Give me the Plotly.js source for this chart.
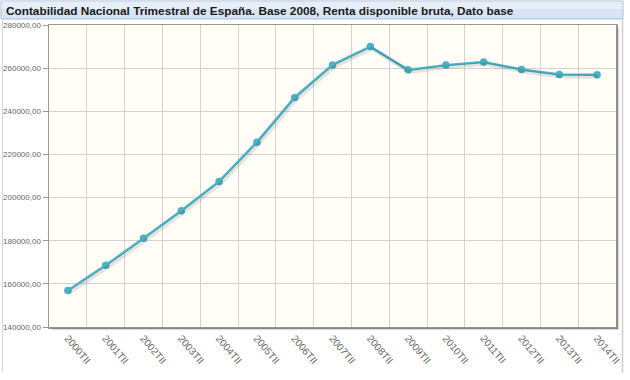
<!DOCTYPE html>
<html>
<head>
<meta charset="utf-8">
<script src="https://cdn.plot.ly/plotly-3.0.1.min.js"></script>
<style>html,body{margin:0;padding:0;background:#fff;}#chart{width:630px;height:380px;}</style>
</head>
<body>
<div id="chart"></div>
<script>
// Data
var categories = ["2000TII","2001TII","2002TII","2003TII","2004TII","2005TII","2006TII","2007TII","2008TII","2009TII","2010TII","2011TII","2012TII","2013TII","2014TII"];
var rentaDisponible = [156900, 168600, 181100, 193900, 207500, 225700, 246400, 261500, 270000, 259200, 261400, 262800, 259400, 257000, 256900];
var yTickValues = [140000, 160000, 180000, 200000, 220000, 240000, 260000, 280000];
var chartTitle = "Contabilidad Nacional Trimestral de España. Base 2008, Renta disponible bruta, Dato base";

var W = 630, H = 380;
var M = {l: 49, r: 14, t: 25, b: 53};
var pw = W - M.l - M.r, ph = H - M.t - M.b;
function px(x){ return (x - M.l) / pw; }
function py(y){ return (H - M.b - y) / ph; }

var yMin = 140000, yMax = 280000;
var unitsPerPx = (yMax - yMin) / ph;
var xUnitsPerPx = categories.length / pw;

var shadow = {
  x: categories, y: rentaDisponible, type: 'scatter', mode: 'lines',
  xaxis: 'x2', yaxis: 'y2',
  line: {color: 'rgba(0,0,0,0.10)', width: 4},
  hoverinfo: 'skip', showlegend: false
};
var main = {
  x: categories, y: rentaDisponible, type: 'scatter', mode: 'lines+markers',
  line: {color: '#4bb2c5', width: 2.5},
  marker: {color: '#4bb2c5', size: 7.5},
  showlegend: false
};

var shapes = [
  // title bar
  {type:'rect', xref:'paper', yref:'paper', x0:px(1), x1:px(623), y0:py(19), y1:py(1), fillcolor:'#d9e4f4', line:{color:'#a9bbd6', width:1}, layer:'below'},
  {type:'rect', xref:'paper', yref:'paper', x0:px(1.5), x1:px(622.5), y0:py(9), y1:py(1.5), fillcolor:'#e8eef8', line:{width:0}, layer:'below'},
  // panel frame
  {type:'line', xref:'paper', yref:'paper', x0:px(2.5), x1:px(2.5), y0:py(19), y1:py(372), line:{color:'#d4d4d4', width:1}},
  {type:'line', xref:'paper', yref:'paper', x0:px(622.5), x1:px(622.5), y0:py(19), y1:py(373), line:{color:'#cfcfcf', width:1.5}},
  // plot box shadow
  {type:'line', xref:'paper', yref:'paper', x0:px(W-M.r+2), x1:px(W-M.r+2), y0:py(M.t+3), y1:py(H-M.b+2), line:{color:'rgba(0,0,0,0.12)', width:2.5}},
  {type:'line', xref:'paper', yref:'paper', x0:px(M.l+3), x1:px(W-M.r+2), y0:py(H-M.b+2), y1:py(H-M.b+2), line:{color:'rgba(0,0,0,0.12)', width:2.5}}
];

var layout = {
  width: W, height: H,
  margin: M,
  paper_bgcolor: '#ffffff',
  plot_bgcolor: '#fffdf6',
  separators: ',.',
  title: {
    text: '<b>' + chartTitle + '</b>',
    xref: 'container', yref: 'container',
    x: 6 / W, xanchor: 'left',
    y: 1 - 11 / H, yanchor: 'middle',
    font: {family: 'Liberation Sans, Arial, sans-serif', size: 11.8, color: '#1a1a1a'}
  },
  xaxis: {
    type: 'category',
    range: [-0.5, categories.length - 0.5],
    tickson: 'boundaries',
    ticks: '',
    showgrid: true, gridcolor: '#d2d2d2', gridwidth: 1,
    showline: true, linecolor: '#999999', linewidth: 1.5, mirror: true,
    tickangle: 50,
    tickfont: {family: 'Liberation Sans, Arial, sans-serif', size: 10, color: '#666'},
    zeroline: false, fixedrange: true
  },
  yaxis: {
    range: [yMin, yMax],
    tickmode: 'array', tickvals: yTickValues,
    tickformat: '.2f',
    ticks: 'outside', ticklen: 5, tickcolor: '#999',
    showgrid: true, gridcolor: '#d2d2d2', gridwidth: 1,
    showline: true, linecolor: '#999999', linewidth: 1.5, mirror: true,
    tickfont: {family: 'Liberation Sans, Arial, sans-serif', size: 8, color: '#666'},
    zeroline: false, fixedrange: true
  },
  xaxis2: {
    type: 'category', overlaying: 'x', visible: false,
    range: [-0.5 - 1.5 * xUnitsPerPx, categories.length - 0.5 - 1.5 * xUnitsPerPx],
    fixedrange: true
  },
  yaxis2: {
    overlaying: 'y', visible: false,
    range: [yMin + 2 * unitsPerPx, yMax + 2 * unitsPerPx],
    fixedrange: true
  },
  shapes: shapes
};

Plotly.newPlot('chart', [shadow, main], layout, {displayModeBar: false, staticPlot: true});
</script>
</body>
</html>
